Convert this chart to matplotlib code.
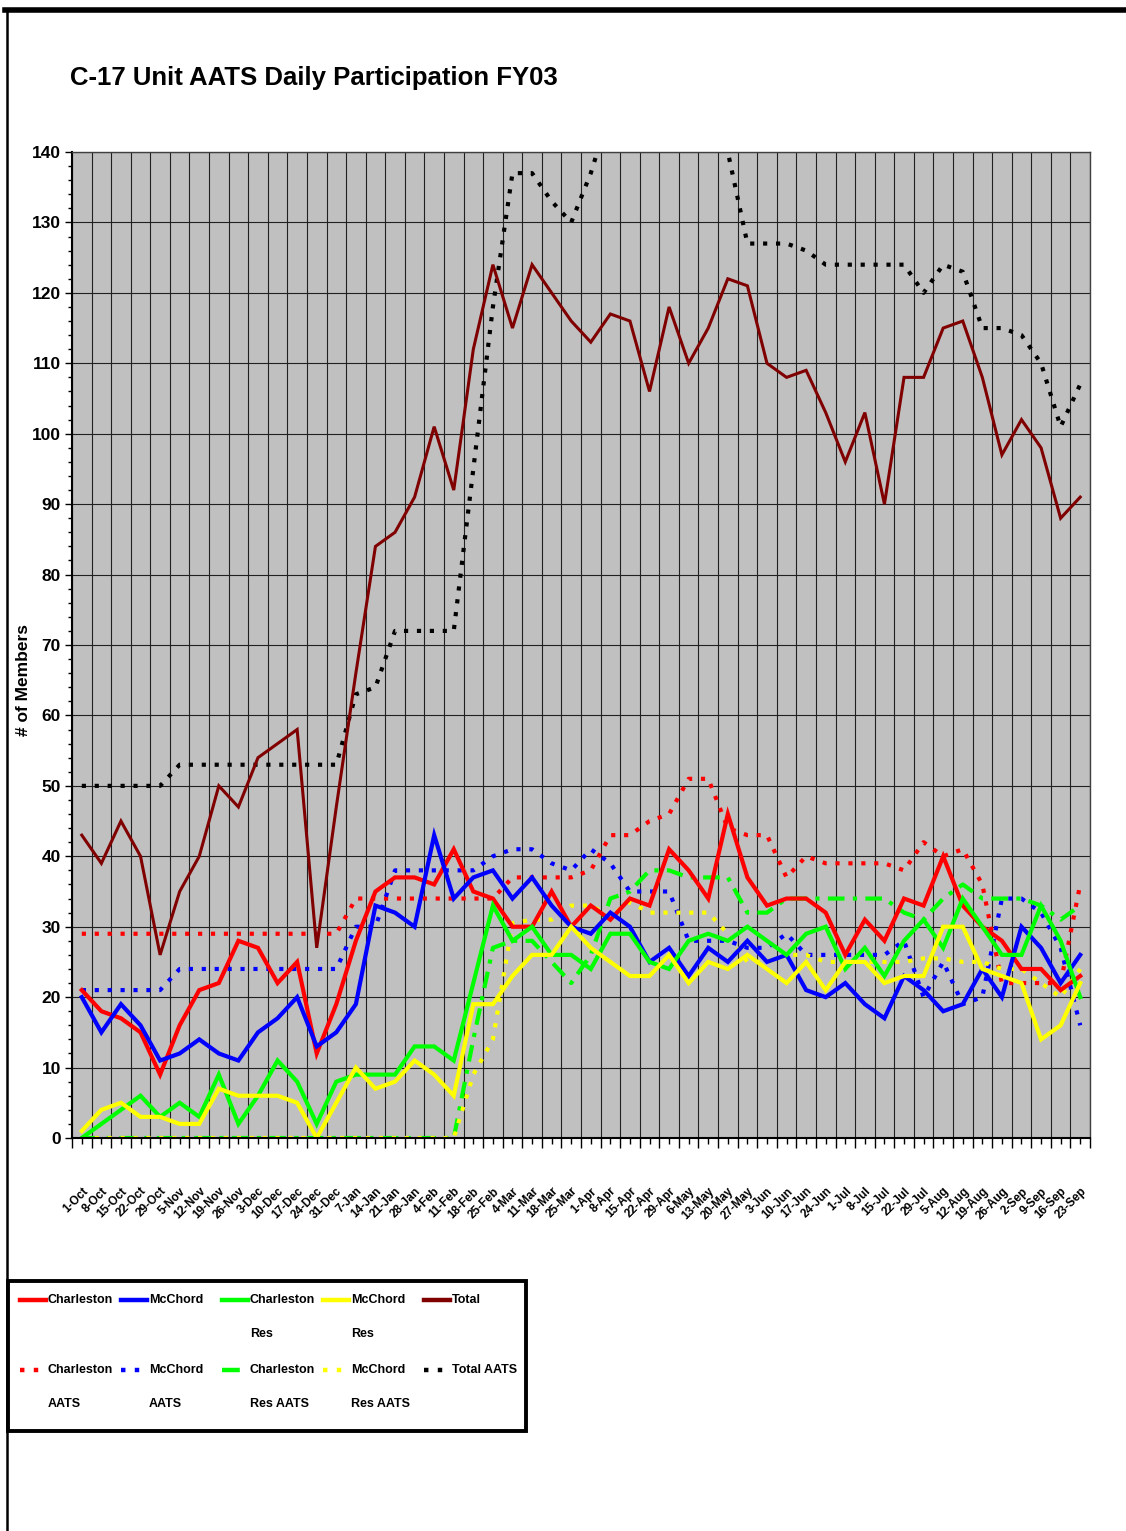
import numpy as np
import matplotlib
matplotlib.use('Agg')
import matplotlib.pyplot as plt
from matplotlib.lines import Line2D
from matplotlib.patches import Rectangle

plt.rcParams['font.family'] = ['Liberation Sans', 'DejaVu Sans']
plt.rcParams['font.weight'] = 'bold'

weeks = ['1-Oct', '8-Oct', '15-Oct', '22-Oct', '29-Oct', '5-Nov', '12-Nov', '19-Nov', '26-Nov',
         '3-Dec', '10-Dec', '17-Dec', '24-Dec', '31-Dec', '7-Jan', '14-Jan', '21-Jan', '28-Jan',
         '4-Feb', '11-Feb', '18-Feb', '25-Feb', '4-Mar', '11-Mar', '18-Mar', '25-Mar', '1-Apr',
         '8-Apr', '15-Apr', '22-Apr', '29-Apr', '6-May', '13-May', '20-May', '27-May', '3-Jun',
         '10-Jun', '17-Jun', '24-Jun', '1-Jul', '8-Jul', '15-Jul', '22-Jul', '29-Jul', '5-Aug',
         '12-Aug', '19-Aug', '26-Aug', '2-Sep', '9-Sep', '16-Sep', '23-Sep']

charleston = [21, 18, 17, 15, 9, 16, 21, 22, 28, 27, 22, 25, 12, 19, 28, 35, 37, 37, 36, 41,
              35, 34, 30, 30, 35, 30, 33, 31, 34, 33, 41, 38, 34, 46, 37, 33, 34, 34, 32, 26,
              31, 28, 34, 33, 40, 33, 30, 28, 24, 24, 21, 23]
mcchord = [20, 15, 19, 16, 11, 12, 14, 12, 11, 15, 17, 20, 13, 15, 19, 33, 32, 30, 43, 34,
           37, 38, 34, 37, 33, 30, 29, 32, 30, 25, 27, 23, 27, 25, 28, 25, 26, 21, 20, 22,
           19, 17, 23, 21, 18, 19, 24, 20, 30, 27, 22, 26]
charleston_res = [0, 2, 4, 6, 3, 5, 3, 9, 2, 6, 11, 8, 2, 8, 9, 9, 9, 13, 13, 11,
                  22, 33, 28, 30, 26, 26, 24, 29, 29, 25, 24, 28, 29, 28, 30, 28, 26, 29, 30, 24,
                  27, 23, 28, 31, 27, 34, 30, 26, 26, 33, 28, 20]
mcchord_res = [1, 4, 5, 3, 3, 2, 2, 7, 6, 6, 6, 5, 0, 5, 10, 7, 8, 11, 9, 6,
               19, 19, 23, 26, 26, 30, 27, 25, 23, 23, 26, 22, 25, 24, 26, 24, 22, 25, 21, 25,
               25, 22, 23, 23, 30, 30, 24, 23, 22, 14, 16, 22]
total = [43, 39, 45, 40, 26, 35, 40, 50, 47, 54, 56, 58, 27, 47, 66, 84, 86, 91, 101, 92,
         112, 124, 115, 124, 120, 116, 113, 117, 116, 106, 118, 110, 115, 122, 121, 110, 108, 109, 103, 96,
         103, 90, 108, 108, 115, 116, 108, 97, 102, 98, 88, 91]

charleston_aats = [29, 29, 29, 29, 29, 29, 29, 29, 29, 29, 29, 29, 29, 29, 34, 34, 34, 34, 34, 34,
                   34, 34, 37, 37, 37, 37, 38, 43, 43, 45, 46, 51, 51, 44, 43, 43, 37, 40, 39, 39,
                   39, 39, 38, 42, 40, 41, 36, 22, 22, 22, 22, 36]
mcchord_aats = [21, 21, 21, 21, 21, 24, 24, 24, 24, 24, 24, 24, 24, 24, 30, 30, 38, 38, 38, 38,
                38, 40, 41, 41, 39, 38, 41, 39, 35, 35, 35, 28, 28, 28, 27, 27, 29, 26, 26, 26,
                26, 26, 28, 20, 25, 19, 20, 34, 34, 32, 27, 16]
charleston_res_aats = [0, 0, 0, 0, 0, 0, 0, 0, 0, 0, 0, 0, 0, 0, 0, 0, 0, 0, 0, 0,
                       14, 27, 28, 28, 25, 22, 26, 34, 35, 38, 38, 37, 37, 37, 32, 32, 34, 34, 34, 34,
                       34, 34, 32, 31, 34, 36, 34, 34, 34, 33, 31, 33]
mcchord_res_aats = [0, 0, 0, 0, 0, 0, 0, 0, 0, 0, 0, 0, 0, 0, 0, 0, 0, 0, 0, 0,
                    9, 14, 30.5, 31, 31, 33, 33, 31.5, 33.5, 32, 32, 32, 32, 29, 25, 25, 26, 26, 25, 25,
                    25, 25, 25, 25.5, 25.5, 25, 25, 24, 24, 22, 20, 24]
total_aats = [50, 50, 50, 50, 50, 53, 53, 53, 53, 53, 53, 53, 53, 53, 63, 64, 72, 72, 72, 72,
              95, 118, 137, 137, 133, 130, 137, 146, 150, 148, 152, 150, 146, 140, 127, 127, 127, 126, 124, 124,
              124, 124, 124, 120, 124, 123, 115, 115, 114, 110, 101, 107]

W, H = 1126, 1531
fig = plt.figure(figsize=(W / 100, H / 100), dpi=100)

# page frame
fig.add_artist(Line2D([5 / W, 1], [1 - 10 / H, 1 - 10 / H], color='black', lw=4, transform=fig.transFigure))
fig.add_artist(Line2D([7 / W, 7 / W], [0, 1 - 10 / H], color='black', lw=1.8, transform=fig.transFigure))

fig.text(70 / W, 1 - 78 / H, 'C-17 Unit AATS Daily Participation FY03', fontsize=18.5,
         fontweight='bold', ha='left', va='center')

ax = fig.add_axes([72 / W, 1 - 1138 / H, (1090 - 72) / W, (1138 - 152) / H])
ax.set_facecolor('#C0C0C0')
x = np.arange(len(weeks))

dot = (1, 2.1)
dashdot = (4, 2, 1, 2)
series = [
    (charleston_aats, '#FF0000', 3, dot),
    (mcchord_aats, '#0000FF', 3, dot),
    (charleston_res_aats, '#00FF00', 3, dashdot),
    (mcchord_res_aats, '#FFFF00', 3, dot),
    (total_aats, 'black', 3, dot),
    (charleston, '#FF0000', 3, None),
    (mcchord, '#0000FF', 3, None),
    (charleston_res, '#00FF00', 3, None),
    (mcchord_res, '#FFFF00', 3, None),
    (total, '#800000', 2.2, None),
]
for vals, col, lw, dash in series:
    line, = ax.plot(x, vals, color=col, lw=lw, solid_joinstyle='miter')
    if dash is not None:
        line.set_dashes(dash)
        line.set_dash_capstyle('butt')

ax.set_xlim(-0.5, len(weeks) - 0.5)
ax.set_ylim(0, 140)
ax.set_yticks(np.arange(0, 141, 10))
ax.set_yticks(np.arange(0, 141, 2), minor=True)
ax.set_xticks(np.arange(len(weeks) + 1) - 0.5)
ax.set_xticklabels([])
ax.set_xticks(x, minor=True)
ax.set_xticklabels(weeks, minor=True, rotation=45, ha='right', rotation_mode='anchor',
                   fontsize=8.5, fontweight='bold')
ax.tick_params(axis='x', which='major', length=7, width=1, direction='out')
ax.tick_params(axis='x', which='minor', length=4, width=1, direction='out', pad=30)
ax.tick_params(axis='y', which='major', length=5, width=1, labelsize=12.5, pad=3)
ax.tick_params(axis='y', which='minor', length=3, width=1)
ax.grid(True, which='major', color='#202020', lw=0.8)
ax.set_axisbelow(True)
for s in ['top', 'right']:
    ax.spines[s].set_color('#404040')
    ax.spines[s].set_linewidth(1)
for s in ['left', 'bottom']:
    ax.spines[s].set_color('black')
    ax.spines[s].set_linewidth(1.5)

fig.text(24 / W, 1 - 680 / H, '# of Members', rotation=90, fontsize=12.5, fontweight='bold',
         ha='center', va='center')

# legend box
leg = fig.add_axes([8 / W, 1 - 1432 / H, (527 - 8) / W, (1432 - 1280) / H])
leg.set_xlim(8, 527)
leg.set_ylim(1432, 1280)
leg.axis('off')
leg.add_patch(Rectangle((8, 1281), 518, 150, fill=False, ec='black', lw=2.8, clip_on=False))
entries = [
    (['Charleston'], '#FF0000', None), (['McChord'], '#0000FF', None),
    (['Charleston', 'Res'], '#00FF00', None), (['McChord', 'Res'], '#FFFF00', None),
    (['Total'], '#800000', None),
    (['Charleston', 'AATS'], '#FF0000', dot), (['McChord', 'AATS'], '#0000FF', dot),
    (['Charleston', 'Res AATS'], '#00FF00', dashdot), (['McChord', 'Res AATS'], '#FFFF00', dot),
    (['Total AATS'], 'black', dot),
]
col_x = [20, 121, 222, 323, 424]
row_y = [1300, 1370]
for k, (lines, col, dash) in enumerate(entries):
    cx = col_x[k % 5]
    ry = row_y[k // 5]
    ln = Line2D([cx, cx + 26], [ry, ry], color=col, lw=3.2)
    if dash is not None:
        ln.set_dashes(dash)
        ln.set_dash_capstyle('butt')
    leg.add_line(ln)
    for j, part in enumerate(lines):
        leg.text(cx + 28, ry + 34 * j, part, fontsize=9, fontweight='bold', ha='left',
                 va='center')

fig.savefig('out.png', dpi=100)
